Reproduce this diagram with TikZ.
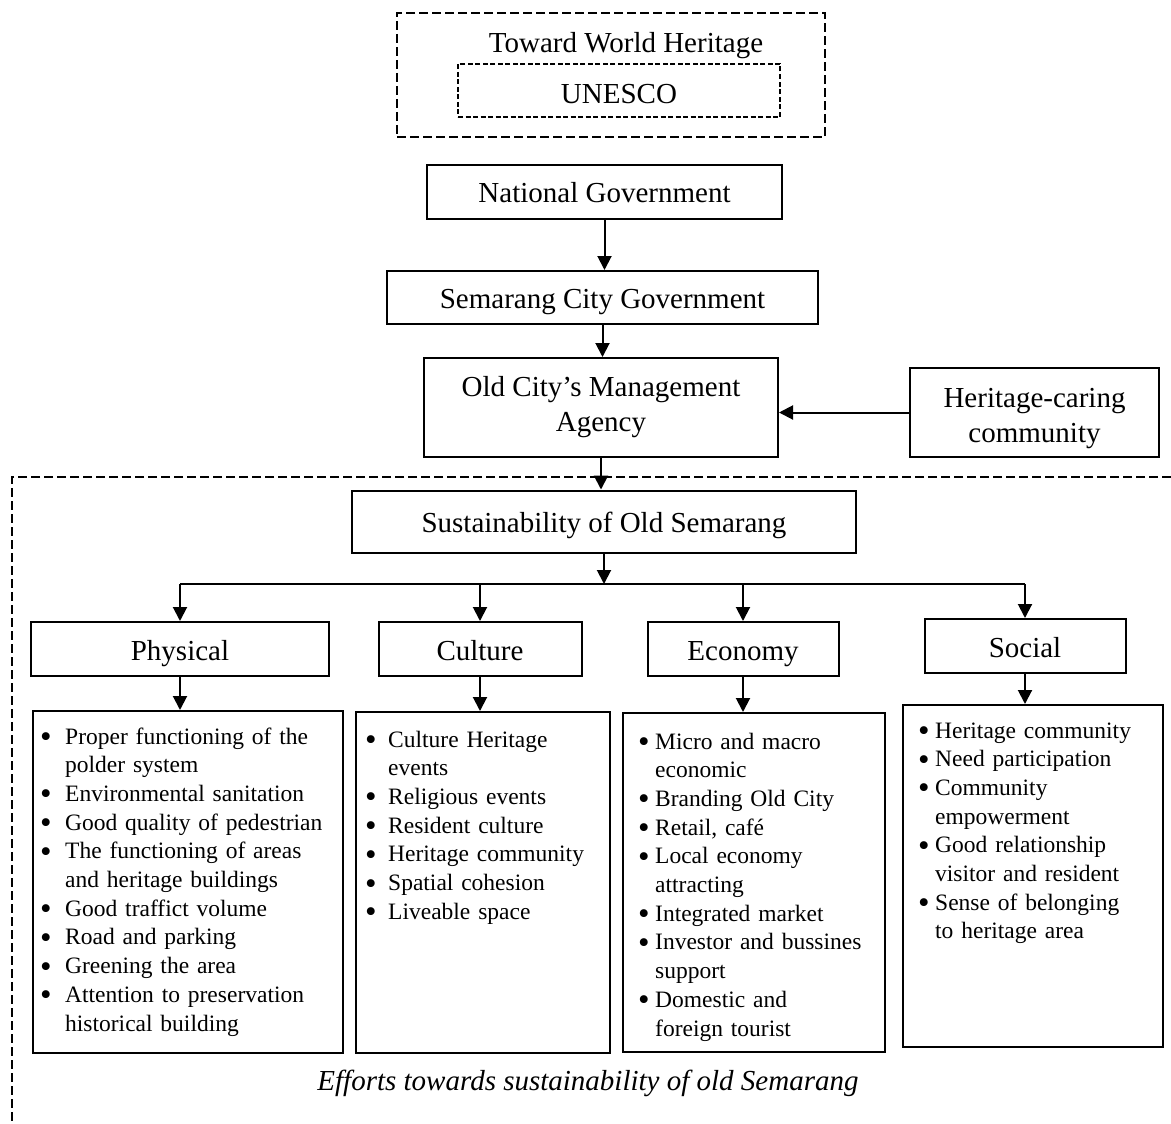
\documentclass[tikz,border=0pt]{standalone}
\usepackage{fontspec}
\usepackage{graphicx}
\setmainfont{Liberation Serif}
\usetikzlibrary{arrows.meta}

\newcommand{\boxfont}{\fontsize{29}{35}\selectfont}
\newcommand{\listfont}{\fontsize{23.5}{28.7}\selectfont}
% bullet item with hanging indent
\newlength{\bulletshift}
\newcommand{\itm}[1]{\noindent\hangindent=25pt\hangafter=1\makebox[25pt][l]{\hspace*{\bulletshift}\raisebox{-3.5pt}{\scalebox{1.4}{\textbullet}}}#1\par}

\begin{document}
\begin{tikzpicture}[x=1pt,y=-1pt,
    box/.style={draw,line width=2pt,inner sep=0pt,font=\boxfont,align=center},
    hdr/.style={box,text height=26pt,text depth=5pt},
    listbox/.style={draw,line width=2pt,inner sep=0pt},
    listtext/.style={inner sep=0pt,font=\listfont,align=left,anchor=base west},
    arr/.style={line width=2pt,-{Triangle[length=14pt,width=14pt]}},
    bigdash/.style={line width=2.4pt,dash pattern=on 9pt off 4pt},
    smalldash/.style={line width=1.3pt,dash pattern=on 5pt off 2.5pt}]
    \useasboundingbox (0,0) rectangle (1171,1124);

    % World heritage target
    \node[box,bigdash,minimum width=428pt,minimum height=124pt] (world) at (611,75) {};
    \node[font=\boxfont] (worldT) at (626,46) {Toward World Heritage};
    \node[box,smalldash,text height=25pt,text depth=0pt,minimum width=322pt,minimum height=53pt] (unesco) at (619,90.5) {UNESCO};

    % Government chain
    \node[hdr,minimum width=355pt,minimum height=54pt] (nat) at (604.5,192) {National Government};
    \node[hdr,minimum width=431pt,minimum height=53pt] (sem) at (602.5,297.5) {Semarang City Government};
    \node[box,minimum width=354pt,minimum height=99pt] (oldcity) at (601,407.5) {Old City’s Management\\Agency};
    \node[box,minimum width=249pt,minimum height=89pt] (herit) at (1034.5,412.5) {\rule{0pt}{32pt}Heritage-caring\\community};

    \draw[arr] (nat.south) -- (nat.south |- sem.north);
    \draw[arr] (sem.south) -- (sem.south |- oldcity.north);
    \draw[arr] (herit.west) -- (herit.west -| oldcity.east);

    % Sustainability area
    \draw[bigdash] (1171,477) -- (12,477) -- (12,1124);
    \node[hdr,minimum width=504pt,minimum height=62pt] (sust) at (604,521.5) {Sustainability of Old Semarang};
    \draw[arr] (oldcity.south) -- (oldcity.south |- sust.north);

    % Four aspects
    \node[hdr,text height=27pt,minimum width=298pt,minimum height=54pt] (phys) at (180,649) {Physical};
    \node[hdr,text height=27pt,minimum width=203pt,minimum height=54pt] (cult) at (480,649) {Culture};
    \node[hdr,text height=27pt,minimum width=191pt,minimum height=54pt] (econ) at (743,649) {Economy};
    \node[hdr,text height=27pt,minimum width=201pt,minimum height=54pt] (soc) at (1025,646) {Social};

    \coordinate (bus) at (604,584);
    \draw[arr] (sust.south) -- (bus);
    \draw[line width=2pt] (phys.north |- bus) -- (soc.north |- bus);
    \foreach \n in {phys,cult,econ,soc}
        \draw[arr] (\n.north |- bus) -- (\n.north);

    % Lists of efforts
    \node[listbox,minimum width=310pt,minimum height=342pt] (physL) at (188,882) {};
    \node[listbox,minimum width=254pt,minimum height=341pt] (cultL) at (483,882.5) {};
    \node[listbox,minimum width=262pt,minimum height=339pt] (econL) at (754,882.5) {};
    \node[listbox,minimum width=260pt,minimum height=342pt] (socL) at (1033,876) {};

    \draw[arr] (phys.south) -- (phys.south |- physL.north);
    \draw[arr] (cult.south) -- (cult.south |- cultL.north);
    \draw[arr] (econ.south) -- (econ.south |- econL.north);
    \draw[arr] (soc.south) -- (soc.south |- socL.north);

    \node[listtext,text width=294pt] (physT) at ([xshift=8pt,yshift=-34pt]physL.north west) {%
        \setlength{\bulletshift}{0pt}%
        \itm{Proper functioning of the\newline polder system}
        \itm{Environmental sanitation}
        \itm{Good quality of pedestrian}
        \itm{The functioning of areas\newline and heritage buildings}
        \itm{Good traffict volume}
        \itm{Road and parking}
        \itm{Greening the area}
        \itm{Attention to preservation\newline historical building}};
    \node[listtext,text width=238pt] (cultT) at ([xshift=8pt,yshift=-36pt]cultL.north west) {%
        \setlength{\bulletshift}{2pt}%
        \itm{Culture Heritage\newline events}
        \itm{Religious events}
        \itm{Resident culture}
        \itm{Heritage community}
        \itm{Spatial cohesion}
        \itm{Liveable space}};
    \node[listtext,text width=246pt] (econT) at ([xshift=8pt,yshift=-37pt]econL.north west) {%
        \setlength{\bulletshift}{8pt}%
        \itm{Micro and macro\newline economic}
        \itm{Branding Old City}
        \itm{Retail, café}
        \itm{Local economy\newline attracting}
        \itm{Integrated market}
        \itm{Investor and bussines\newline support}
        \itm{Domestic and\newline foreign tourist}};
    \node[listtext,text width=244pt] (socT) at ([xshift=8pt,yshift=-34pt]socL.north west) {%
        \setlength{\bulletshift}{8pt}%
        \itm{Heritage community}
        \itm{Need participation}
        \itm{Community\newline empowerment}
        \itm{Good relationship\newline visitor and resident}
        \itm{Sense of belonging\newline to heritage area}};

    \node[font=\boxfont\itshape] (caption) at (588,1083) {Efforts towards sustainability of old Semarang};
\end{tikzpicture}
\end{document}
